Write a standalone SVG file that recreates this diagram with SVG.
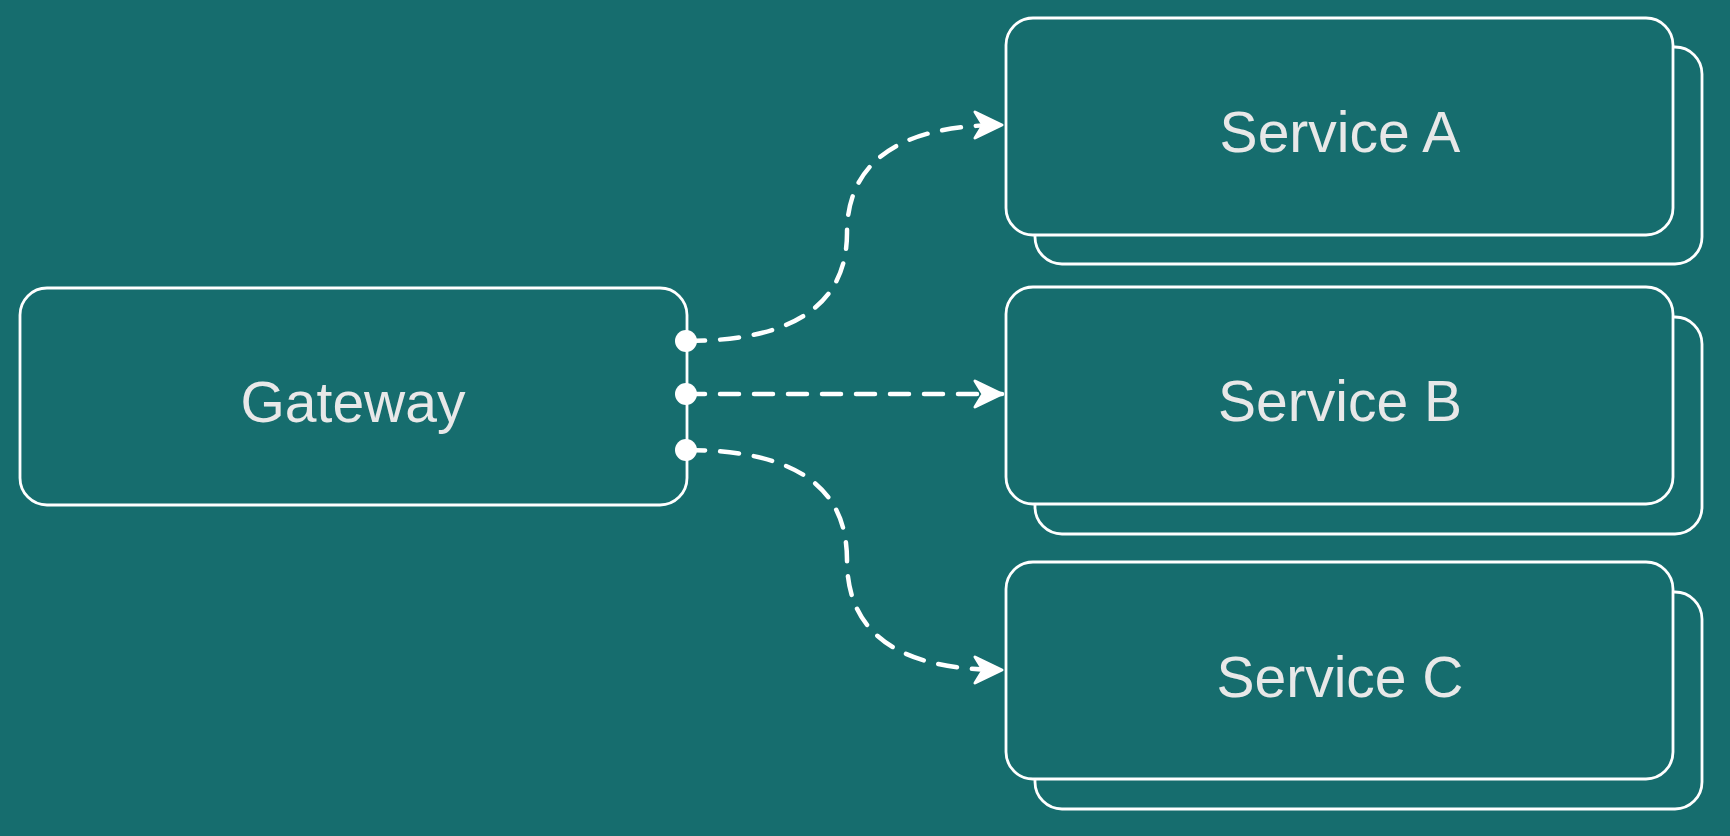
<svg xmlns="http://www.w3.org/2000/svg" width="1730" height="836" viewBox="0 0 1730 836">
  <style>
    .bg { fill: #166d6e; }
    .box { fill: #166d6e; stroke: #ffffff; stroke-width: 2.8; }
    .label { font-family: "Liberation Sans", Arial, sans-serif; font-size: 57px; fill: #e8e8e8; text-anchor: middle; }
    .conn { fill: none; stroke: #ffffff; stroke-width: 4.5; stroke-linecap: round; stroke-dasharray: 19 15; }
    .dot { fill: #ffffff; }
    .head { fill: #ffffff; stroke: #ffffff; stroke-width: 3; stroke-linejoin: round; }
  </style>
  <defs>
    <marker id="arrow" markerUnits="userSpaceOnUse" viewBox="-32 -18 36 36" refX="0" refY="0" markerWidth="36" markerHeight="36" orient="auto">
      <path class="head" d="M0,0 L-27,-13 L-19,0 L-27,13 Z"/>
    </marker>
  </defs>
  <rect class="bg" x="0" y="0" width="1730" height="836"/>

  <g id="gateway">
    <rect class="box" x="20" y="288" width="667" height="217" rx="27" ry="27"/>
    <text class="label" x="353" y="422">Gateway</text>
  </g>

  <g id="service-a">
    <rect class="box" x="1035" y="47" width="667" height="217" rx="27" ry="27"/>
    <rect class="box" x="1006" y="18" width="667" height="217" rx="27" ry="27"/>
    <text class="label" x="1340" y="152">Service A</text>
  </g>

  <g id="service-b">
    <rect class="box" x="1035" y="317" width="667" height="217" rx="27" ry="27"/>
    <rect class="box" x="1006" y="287" width="667" height="217" rx="27" ry="27"/>
    <text class="label" x="1340" y="421">Service B</text>
  </g>

  <g id="service-c">
    <rect class="box" x="1035" y="592" width="667" height="217" rx="27" ry="27"/>
    <rect class="box" x="1006" y="562" width="667" height="217" rx="27" ry="27"/>
    <text class="label" x="1340" y="697">Service C</text>
  </g>

  <g id="connectors">
    <path class="conn" d="M686 341 C800 341 847 300 847 233 C847 166 894 125 1002 125" marker-end="url(#arrow)"/>
    <path class="conn" d="M686 394 L1002 394" marker-end="url(#arrow)"/>
    <path class="conn" d="M686 450 C800 450 847 490 847 560 C847 630 894 670 1002 670" marker-end="url(#arrow)"/>
    <circle class="dot" cx="686" cy="341" r="11"/>
    <circle class="dot" cx="686" cy="394" r="11"/>
    <circle class="dot" cx="686" cy="450" r="11"/>
  </g>
</svg>
